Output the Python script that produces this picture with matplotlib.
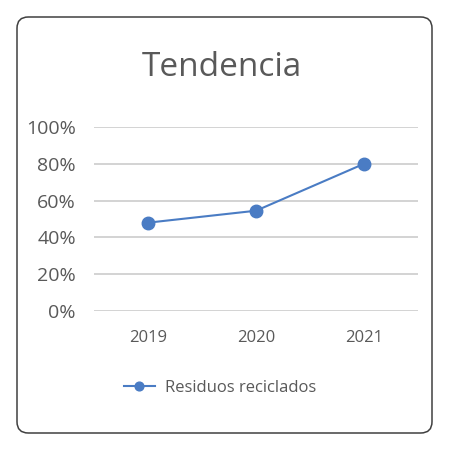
import matplotlib.pyplot as plt
from matplotlib.patches import FancyBboxPatch
from matplotlib.ticker import PercentFormatter

plt.rcParams['font.family'] = ['Open Sans', 'DejaVu Sans']

years = ['2019', '2020', '2021']
reciclados = [0.48, 0.545, 0.80]
y_ticks = [0, 0.2, 0.4, 0.6, 0.8, 1.0]

fig = plt.figure(figsize=(4.5, 4.5), dpi=100)

# marco redondeado
fig.patches.append(FancyBboxPatch((17/450, 17/450), 415/450, 416/450,
                                  boxstyle="round,pad=0,rounding_size=0.025",
                                  transform=fig.transFigure, facecolor='white',
                                  edgecolor='#404040', linewidth=1.1, zorder=-1))

ax = fig.add_axes([94/450, 1-311/450, 324/450, 184/450])
ax.set_zorder(1)
ax.set_facecolor('none')
x = range(len(years))
ax.plot(x, reciclados, color='#4a7cc4', lw=1.5, marker='o', markersize=9,
        label='Residuos reciclados', zorder=3)
ax.set_xlim(-0.5, 2.5)
ax.set_ylim(0, 1.0)
ax.set_yticks(y_ticks)
ax.yaxis.set_major_formatter(PercentFormatter(1.0, decimals=0))
ax.set_xticks(list(x))
ax.set_xticklabels(years)
ax.grid(axis='y', color='#cccccc', lw=1.2)
ax.set_axisbelow(True)
for s in ax.spines.values():
    s.set_visible(False)
ax.tick_params(axis='y', length=0, pad=13, labelsize=14, labelcolor='#595959')
ax.tick_params(axis='x', length=0, pad=14, labelsize=12, labelcolor='#595959')

fig.text(222/450, 1-68/450, 'Tendencia', ha='center', va='center',
         fontsize=24, color='#595959')

ax.legend(loc='center', bbox_to_anchor=(220/450, 1-388/450),
          bbox_transform=fig.transFigure, frameon=False, fontsize=12,
          labelcolor='#595959', handlelength=1.9, handletextpad=0.6,
          markerscale=0.7)

fig.savefig('out.png', dpi=100)
